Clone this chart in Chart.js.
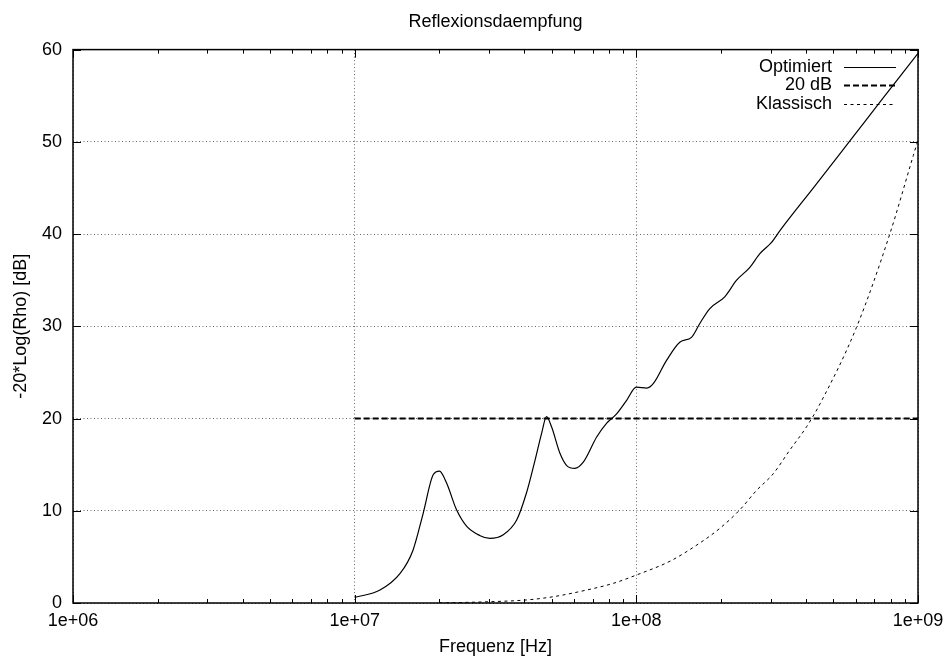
<!DOCTYPE html>
<html><head><meta charset="utf-8">
<script src="https://cdn.jsdelivr.net/npm/chart.js@4/dist/chart.umd.min.js"></script>
<style>html,body{margin:0;padding:0;background:#fff}canvas{display:block}</style>
</head><body>
<canvas id="c" width="945" height="659"></canvas>
<script>
// ---- data ----
const seriesNames = ['Optimiert', '20 dB', 'Klassisch'];

const optFreq = [1.00e7, 1.23e7, 1.45e7, 1.61e7, 1.75e7, 1.90e7, 2.00e7, 2.12e7, 2.30e7, 2.50e7,
  2.79e7, 3.02e7, 3.37e7, 3.76e7, 4.07e7, 4.37e7, 4.61e7, 4.80e7, 5.00e7, 5.36e7,
  5.66e7, 6.05e7, 6.49e7, 7.23e7, 7.85e7, 8.51e7, 9.25e7, 1.00e8, 1.09e8, 1.15e8,
  1.28e8, 1.43e8, 1.57e8, 1.68e8, 1.82e8, 2.06e8, 2.27e8, 2.53e8, 2.75e8, 3.02e8,
  3.24e8, 4.30e8, 5.73e8, 7.50e8, 1.00e9];
const optVal = [0.6, 1.4, 3.2, 5.7, 9.7, 13.9, 14.3, 13.0, 10.1, 8.3,
  7.3, 7.0, 7.4, 9.0, 11.9, 15.5, 18.4, 20.2, 19.1, 16.2,
  14.9, 14.6, 15.3, 18.0, 19.5, 20.5, 22.0, 23.4, 23.3, 23.8,
  26.3, 28.3, 28.8, 30.3, 31.9, 33.2, 35.0, 36.4, 37.9, 39.1,
  40.4, 45.2, 50.1, 54.7, 59.6];

const refFreq = [1e7, 1e9];
const refVal = [20, 20];

const klassFreq = [2.0e7, 3.02e7, 4.07e7, 5.07e7, 6.67e7, 8.28e7, 1.0e8, 1.32e8, 1.68e8, 1.98e8,
  2.33e8, 2.67e8, 3.06e8, 3.51e8, 4.02e8, 4.49e8, 6.05e8, 7.94e8, 9.62e8, 1.0e9];
const klassVal = [0.0, 0.14, 0.33, 0.68, 1.41, 2.13, 3.03, 4.55, 6.5, 8.1,
  10.1, 12.2, 14.0, 16.6, 19.1, 21.6, 29.9, 40.0, 48.5, 50.2];

const xTickValues = [1e6, 1e7, 1e8, 1e9];
const xTickLabels = ['1e+06', '1e+07', '1e+08', '1e+09'];
const yMin = 0, yMax = 60, yStep = 10;

const toPts = (xs, ys) => xs.map((v, i) => ({x: v, y: ys[i]}));

const FONT = 'Liberation Sans, Arial, Helvetica, sans-serif';

const framePlugin = {
  id: 'frame',
  afterDatasetsDraw(chart) {
    const {ctx, chartArea: a, scales: {x, y}} = chart;
    ctx.save();
    ctx.setLineDash([]);
    ctx.strokeStyle = '#000';
    ctx.lineWidth = 1;
    ctx.beginPath();
    y.ticks.forEach(t => {
      const py = Math.round(y.getPixelForValue(t.value)) + 0.5;
      ctx.moveTo(a.left, py); ctx.lineTo(a.left + 8, py);
      ctx.moveTo(a.right, py); ctx.lineTo(a.right - 8, py);
    });
    x.ticks.forEach(t => {
      const px = Math.round(x.getPixelForValue(t.value)) + 0.5;
      ctx.moveTo(px, a.bottom); ctx.lineTo(px, a.bottom - 8);
      ctx.moveTo(px, a.top); ctx.lineTo(px, a.top + 8);
    });
    for (let d = x.min; d < x.max; d *= 10) {
      for (let m = 2; m <= 9; m++) {
        const px = Math.round(x.getPixelForValue(d * m)) + 0.5;
        ctx.moveTo(px, a.bottom); ctx.lineTo(px, a.bottom - 4);
        ctx.moveTo(px, a.top); ctx.lineTo(px, a.top + 4);
      }
    }
    ctx.stroke();
    ctx.lineWidth = 1.5;
    ctx.strokeRect(a.left, a.top, a.right - a.left, a.bottom - a.top);

    // gnuplot-style key: text right-aligned, sample line to its right
    ctx.font = '18px ' + FONT;
    ctx.fillStyle = '#000';
    ctx.textAlign = 'right';
    ctx.textBaseline = 'middle';
    chart.data.datasets.forEach((ds, i) => {
      const yy = a.top + 17 + i * 18.5;
      ctx.fillText(ds.label, a.right - 86, yy);
      ctx.beginPath();
      ctx.strokeStyle = ds.borderColor;
      ctx.lineWidth = ds.borderWidth;
      ctx.setLineDash(ds.borderDash || []);
      ctx.moveTo(a.right - 74, Math.round(yy) + 0.5);
      ctx.lineTo(a.right - 22, Math.round(yy) + 0.5);
      ctx.stroke();
    });
    ctx.restore();
  }
};

new Chart(document.getElementById('c'), {
  type: 'line',
  data: {
    datasets: [
      {label: seriesNames[0], data: toPts(optFreq, optVal), borderColor: '#000', borderWidth: 1.2,
       pointRadius: 0, cubicInterpolationMode: 'monotone', fill: false},
      {label: seriesNames[1], data: toPts(refFreq, refVal), borderColor: '#000', borderWidth: 2,
       borderDash: [6, 3], pointRadius: 0, fill: false},
      {label: seriesNames[2], data: toPts(klassFreq, klassVal), borderColor: '#000', borderWidth: 1,
       borderDash: [3, 3.5], pointRadius: 0, cubicInterpolationMode: 'monotone', fill: false}
    ]
  },
  options: {
    responsive: false,
    animation: false,
    layout: {padding: {left: 0, right: 27, top: 0, bottom: 0}},
    plugins: {
      legend: {display: false},
      tooltip: {enabled: false},
      title: {
        display: true, text: 'Reflexionsdaempfung', color: '#000', fullSize: false,
        font: {family: FONT, size: 18, weight: 'normal', lineHeight: 1.2},
        padding: {top: 11, bottom: 17}
      }
    },
    scales: {
      x: {
        type: 'logarithmic', min: 1e6, max: 1e9,
        afterBuildTicks: s => { s.ticks = xTickValues.map(v => ({value: v})); },
        afterFit: s => { s.height = 56; s.paddingLeft = 0; s.paddingRight = 0; },
        ticks: {
          color: '#000', font: {family: FONT, size: 18}, padding: 7, maxRotation: 0, autoSkip: false,
          callback: (v, i) => xTickLabels[i]
        },
        grid: {color: '#666', lineWidth: 1, drawTicks: false},
        border: {display: false, dash: [1, 2.5]},
        title: {display: true, text: 'Frequenz [Hz]', color: '#000',
          font: {family: FONT, size: 18, lineHeight: 1.2}, padding: {top: 0, bottom: 1}}
      },
      y: {
        type: 'linear', min: yMin, max: yMax,
        afterFit: s => { s.width = 73; },
        ticks: {stepSize: yStep, color: '#000', font: {family: FONT, size: 18}, padding: 11},
        grid: {color: '#666', lineWidth: 1, drawTicks: false},
        border: {display: false, dash: [1, 2.5]},
        title: {display: true, text: '-20*Log(Rho) [dB]', color: '#000',
          font: {family: FONT, size: 18, lineHeight: 1.2}, padding: {top: 10, bottom: 0}}
      }
    }
  },
  plugins: [framePlugin]
});
</script>
</body></html>
